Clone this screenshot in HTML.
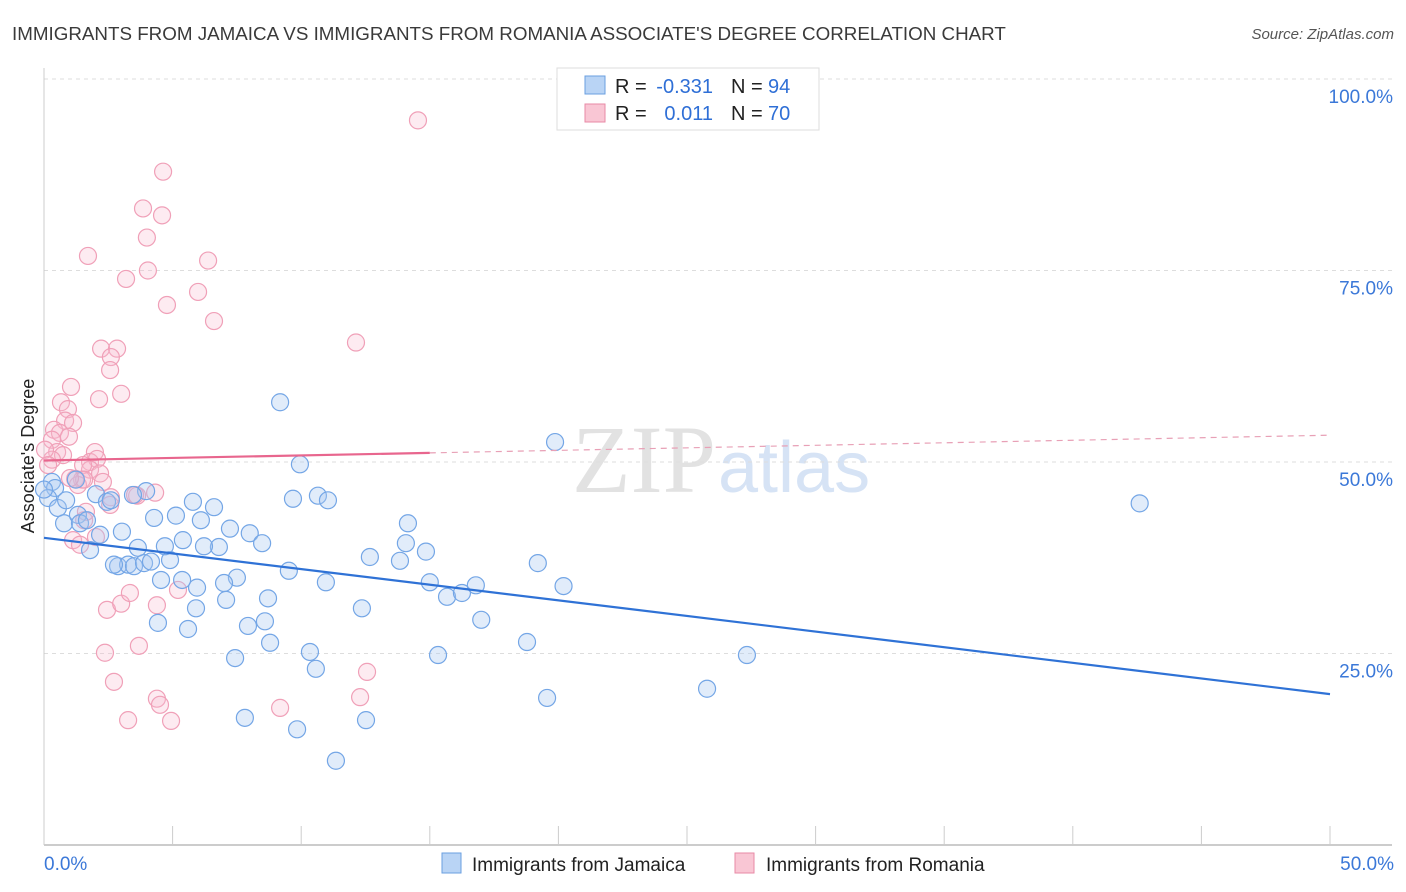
<!DOCTYPE html>
<html><head><meta charset="utf-8"><style>
body{margin:0;background:#fff;font-family:"Liberation Sans",sans-serif}
svg{display:block}
</style></head><body>
<svg id="chart" width="1406" height="892">
<text x="12" y="40" font-size="18.8" fill="#3a3a3a">IMMIGRANTS FROM JAMAICA VS IMMIGRANTS FROM ROMANIA ASSOCIATE'S DEGREE CORRELATION CHART</text>
<text x="1394" y="39" font-size="15" fill="#555" text-anchor="end" font-style="italic">Source: ZipAtlas.com</text>
<text x="716" y="492" font-size="96" fill="#e2e2e2" text-anchor="end" font-family="Liberation Serif">ZIP</text>
<text x="718" y="492" font-size="72" fill="#d6e3f5">atlas</text>
<g id="grid"></g>
<g id="axes"></g>
<g id="pts"></g>
<g id="trends"></g>
<text x="36" y="456" font-size="18" fill="#222" text-anchor="middle" transform="rotate(-90 36 456)" dy="-2">Associate's Degree</text>
<g>
<rect x="557" y="68" width="262" height="62" fill="#fff" stroke="#ddd"/>
<rect x="585" y="76" width="20" height="18" fill="#b9d4f5" stroke="#6a9fe0"/>
<rect x="585" y="104" width="20" height="18" fill="#f9c6d4" stroke="#e88aa6"/>
<text x="615" y="93" font-size="20" fill="#222">R =</text>
<text x="713" y="93" font-size="20" fill="#2f6fd6" text-anchor="end">-0.331</text>
<text x="731" y="93" font-size="20" fill="#222">N =</text>
<text x="768" y="93" font-size="20" fill="#2f6fd6">94</text>
<text x="615" y="120" font-size="20" fill="#222">R =</text>
<text x="713" y="120" font-size="20" fill="#2f6fd6" text-anchor="end">0.011</text>
<text x="731" y="120" font-size="20" fill="#222">N =</text>
<text x="768" y="120" font-size="20" fill="#2f6fd6">70</text>
</g>
<g>
<rect x="442" y="853" width="19" height="20" fill="#b9d4f5" stroke="#6a9fe0"/>
<text x="472" y="871" font-size="19" fill="#222">Immigrants from Jamaica</text>
<rect x="735" y="853" width="19" height="20" fill="#f9c6d4" stroke="#e88aa6"/>
<text x="766" y="871" font-size="19" fill="#222">Immigrants from Romania</text>
</g>
</svg>
<script>
const blueX=[9.18,19.87,42.6,9.95,9.68,10.65,11.04,14.15,14.07,14.85,13.84,12.67,15.0,15.67,16.25,16.79,19.2,20.2,17.0,12.36,18.78,15.32,19.56,25.78,27.33,10.34,10.57,7.81,9.84,11.35,12.52,9.52,10.96,8.71,8.59,7.93,8.79,7.43,7.5,7.0,7.08,5.95,5.91,5.6,4.43,4.55,5.37,4.9,3.65,4.7,5.4,4.28,5.13,5.79,6.61,6.1,7.23,8.0,8.48,6.8,6.22,3.03,2.18,1.79,2.88,3.27,3.5,3.89,2.72,4.16,2.02,2.45,2.6,3.97,3.46,0.31,0.43,0.16,0.54,0.86,0.78,1.32,1.4,1.67,1.24,0.0];
const blueY=[57.8,52.6,44.6,49.7,45.2,45.6,45.0,42.0,39.4,38.3,37.1,37.6,34.3,32.4,32.9,33.9,36.8,33.8,29.4,30.9,26.5,24.8,19.2,20.4,24.8,25.2,23.0,16.6,15.1,11.0,16.3,35.8,34.3,32.2,29.2,28.6,26.4,24.4,34.9,34.2,32.0,33.6,30.9,28.2,29.0,34.6,34.6,37.2,38.8,39.0,39.8,42.7,43.0,44.8,44.1,42.4,41.3,40.7,39.4,38.9,39.0,40.9,40.5,38.5,36.4,36.6,36.4,36.8,36.6,37.0,45.8,44.8,45.0,46.2,45.7,47.4,46.6,45.3,44.0,45.0,42.0,43.1,42.0,42.4,47.7,46.4];
const pinkX=[14.54,4.63,3.85,4.59,4.0,1.71,6.38,3.19,4.04,5.99,4.78,6.61,12.13,2.22,2.84,2.6,2.57,3.0,1.05,2.14,0.66,0.93,0.82,1.13,0.39,0.62,0.97,0.31,0.51,0.74,0.31,1.98,1.79,2.06,1.79,1.52,2.18,2.29,1.21,1.48,1.32,3.62,4.32,2.6,2.57,1.56,1.13,1.4,2.02,2.45,3.0,3.34,4.39,3.69,2.37,2.72,3.27,4.39,4.51,4.94,9.18,12.29,12.56,5.21,0.04,0.16,1.63,3.54,1.56,1.01];
const pinkY=[94.6,87.9,83.1,82.2,79.3,76.9,76.3,73.9,75.0,72.2,70.5,68.4,65.6,64.8,64.8,63.7,62.0,58.9,59.8,58.2,57.8,56.9,55.4,55.1,54.2,53.8,53.3,52.9,51.3,50.9,50.3,51.3,50.0,50.4,49.0,49.6,48.5,47.4,47.8,47.7,47.0,45.6,46.0,45.4,44.4,42.4,39.8,39.2,40.2,30.7,31.5,32.9,31.3,26.0,25.1,21.3,16.3,19.1,18.3,16.2,17.9,19.3,22.6,33.3,51.6,49.6,43.5,45.7,47.7,47.9];
const blueTrend=[40.1,19.7];
const pinkTrend=[50.2,53.5];
const yTicks=[25,50,75,100];
const xTickLabels=["0.0%","50.0%"];
const NS="http://www.w3.org/2000/svg";
const sx=v=>44+v/50*1286, sy=v=>845-v/100*766;
function mk(tag,attrs,parent){const e=document.createElementNS(NS,tag);for(const k in attrs)e.setAttribute(k,attrs[k]);document.getElementById(parent).appendChild(e);return e;}
yTicks.forEach(t=>{
 const l=mk('line',{x1:44,x2:1392,y1:sy(t),y2:sy(t),stroke:'#ddd','stroke-dasharray':'4,4'},'grid');
 
 
 const tx=mk('text',{x:1393,y:sy(t)+24,'font-size':19,fill:'#3b78d8','text-anchor':'end'},'grid');
 tx.textContent=t.toFixed(1)+'%';
 
 
});
const xa=mk('line',{x1:44,x2:1392,y1:845,y2:845,stroke:'#bbb','stroke-width':1.5},'axes');


const ya=mk('line',{x1:44,x2:44,y1:68,y2:845,stroke:'#ccc'},'axes');


for(let i=1;i<=10;i++){
 const t=mk('line',{x1:sx(i*5),x2:sx(i*5),y1:826,y2:845,stroke:'#ccc'},'axes');
 
 
}
[[0,'start',44],[1,'end',1394]].forEach(([i,a,x])=>{
 const t=mk('text',{x:x,y:870,'font-size':19,fill:'#3b78d8','text-anchor':a},'axes');
 t.textContent=xTickLabels[i];
 
 
});
pinkX.forEach((x,i)=>{
 const c=mk('circle',{cx:sx(x),cy:sy(pinkY[i]),r:8.5,fill:'rgba(248,190,208,0.3)',stroke:'#f0a0b8','stroke-width':1.2},'pts');
 
 
});
blueX.forEach((x,i)=>{
 const c=mk('circle',{cx:sx(x),cy:sy(blueY[i]),r:8.5,fill:'rgba(170,200,242,0.35)',stroke:'#74a6e6','stroke-width':1.2},'pts');
 
 
});
const bt=mk('line',{x1:sx(0),y1:sy(blueTrend[0]),x2:sx(50),y2:sy(blueTrend[1]),stroke:'#2f72d6','stroke-width':2.2},'trends');


const pAt=x=>pinkTrend[0]+(pinkTrend[1]-pinkTrend[0])*x/50;
const pt=mk('line',{x1:sx(0),y1:sy(pAt(0)),x2:sx(15),y2:sy(pAt(15)),stroke:'#e8668e','stroke-width':2.2},'trends');


const pd=mk('line',{x1:sx(15),y1:sy(pAt(15)),x2:sx(50),y2:sy(pAt(50)),stroke:'#e8a0b6','stroke-width':1.2,'stroke-dasharray':'6,5'},'trends');


</script>
</body></html>
